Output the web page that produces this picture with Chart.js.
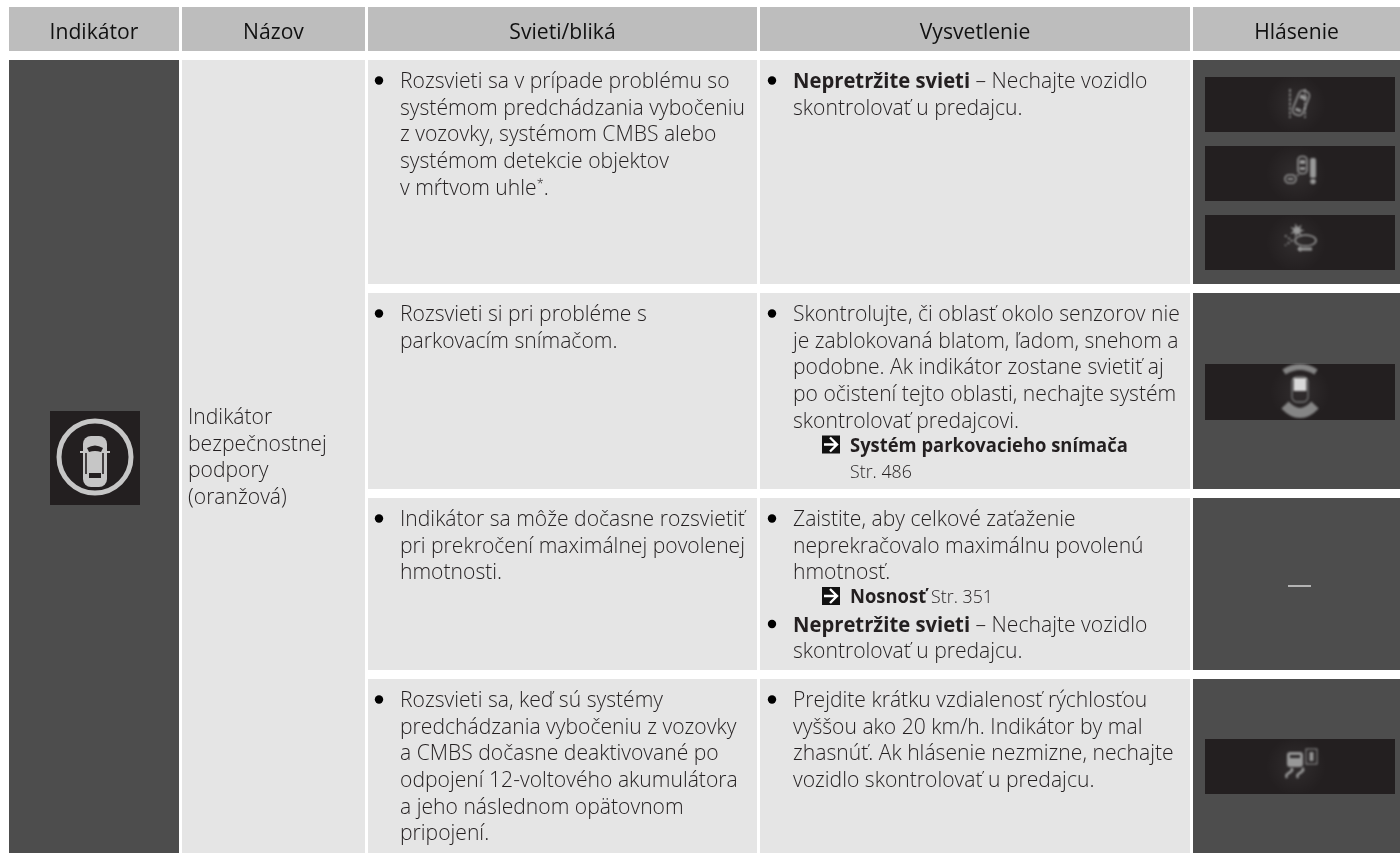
<!DOCTYPE html>
<html lang="sk">
<head>
<meta charset="utf-8">
<title>Indikátor bezpečnostnej podpory</title>
<script src="https://cdn.jsdelivr.net/npm/chart.js@4/dist/chart.umd.js"></script>
<style>
  html, body { margin: 0; padding: 0; background: #fff; }
  #wrap { width: 1400px; height: 853px; }
</style>
</head>
<body>
<div id="wrap"><canvas id="table"></canvas></div>
<script>
// table content
const headers = ["Indikátor", "Názov", "Svieti/bliká", "Vysvetlenie", "Hlásenie"];
const nameLines = ["Indikátor", "bezpečnostnej", "podpory", "(oranžová)"];

// one list per row, "*" starts a bullet, ** marks bold
const svietiRow1 = ["* Rozsvieti sa v prípade problému so", "systémom predchádzania vybočeniu", "z vozovky, systémom CMBS alebo", "systémom detekcie objektov", "v mŕtvom uhle^*^."];
const svietiRow2 = ["* Rozsvieti si pri probléme s", "parkovacím snímačom."];
const svietiRow3 = ["* Indikátor sa môže dočasne rozsvietiť", "pri prekročení maximálnej povolenej", "hmotnosti."];
const svietiRow4 = ["* Rozsvieti sa, keď sú systémy", "predchádzania vybočeniu z vozovky", "a CMBS dočasne deaktivované po", "odpojení 12-voltového akumulátora", "a jeho následnom opätovnom", "pripojení."];

const vysvRow1 = ["* **Nepretržite svieti** – Nechajte vozidlo", "skontrolovať u predajcu."];
const vysvRow2 = ["* Skontrolujte, či oblasť okolo senzorov nie", "je zablokovaná blatom, ľadom, snehom a", "podobne. Ak indikátor zostane svietiť aj", "po očistení tejto oblasti, nechajte systém", "skontrolovať predajcovi."];
const vysvRow3 = ["* Zaistite, aby celkové zaťaženie", "neprekračovalo maximálnu povolenú", "hmotnosť."];
const vysvRow3b = ["* **Nepretržite svieti** – Nechajte vozidlo", "skontrolovať u predajcu."];
const vysvRow4 = ["* Prejdite krátku vzdialenosť rýchlosťou", "vyššou ako 20 km/h. Indikátor by mal", "zhasnúť. Ak hlásenie nezmizne, nechajte", "vozidlo skontrolovať u predajcu."];

// table grid, same units as the page
const columnEdges = [[9, 179], [182, 365], [368, 757], [760, 1190], [1193, 1400]];
const headerEdge = [7, 51];
const rowEdges = [[60, 284], [293, 489], [498, 670], [679, 853]];
const panelRanges = [[77, 132], [146, 201], [215, 270], [364, 420], [739, 794]];
const panelColumn = [1205, 1395];

const INK = "#231f20";
const BODY_FONT = '"Open Sans"';
const SQUEEZE = 0.96;
const BOLD_SQUEEZE = 0.92;

// a cell is a floating horizontal bar: centre on y, range on x
function bar(label, x0, x1, y0, y1, color, order) {
  return {
    label,
    type: "bar",
    data: [{ x: [x0, x1], y: (y0 + y1) / 2 }],
    backgroundColor: color,
    barThickness: y1 - y0,
    inflateAmount: 0,
    order,
  };
}

const cellBars = [];
columnEdges.forEach((c, i) => {
  cellBars.push(bar(headers[i], c[0], c[1], headerEdge[0], headerEdge[1], "#bdbdbd", 1));
});
cellBars.push(bar("indikator", columnEdges[0][0], columnEdges[0][1], rowEdges[0][0], 853, "#4d4d4d", 1));
cellBars.push(bar("nazov", columnEdges[1][0], columnEdges[1][1], rowEdges[0][0], 853, "#e5e5e5", 1));
rowEdges.forEach((r, i) => {
  cellBars.push(bar("svieti" + i, columnEdges[2][0], columnEdges[2][1], r[0], r[1], "#e5e5e5", 1));
  cellBars.push(bar("vysv" + i, columnEdges[3][0], columnEdges[3][1], r[0], r[1], "#e5e5e5", 1));
  cellBars.push(bar("hlasenie" + i, columnEdges[4][0], columnEdges[4][1], r[0], r[1], "#4d4d4d", 1));
});
// panels sit on top of the dark cells
panelRanges.forEach((p, i) => {
  cellBars.push(bar("panel" + i, panelColumn[0], panelColumn[1], p[0], p[1], INK, 0));
});
cellBars.push(bar("icon", 50, 140, 411, 505, INK, 0));

function drawRich(ctx, text, x, y, size) {
  // plain / **bold** / ^sup^ runs
  const parts = text.split(/(\*\*.+?\*\*|\^.+?\^)/).filter(Boolean);
  let cx = x;
  parts.forEach((p) => {
    let s = p, weight = 300, sz = size, dy = 0, squeeze = SQUEEZE;
    if (p.startsWith("**")) { s = p.slice(2, -2); weight = 700; squeeze = BOLD_SQUEEZE; }
    else if (p.startsWith("^")) { s = p.slice(1, -1); sz = size * 0.6; dy = -7; }
    ctx.font = `${weight} ${sz}px ${BODY_FONT}`;
    ctx.save();
    ctx.translate(cx, y + dy);
    ctx.scale(squeeze, 1);
    ctx.fillText(s, 0, 0);
    ctx.restore();
    cx += ctx.measureText(s).width * squeeze;
  });
  return cx;
}

function drawBlock(ctx, sx, sy, lines, textX, bulletX, top) {
  const LINE = 26.65;
  lines.forEach((line, i) => {
    const y = sy.getPixelForValue(top + i * LINE);
    let t = line;
    if (t.startsWith("* ")) {
      t = t.slice(2);
      ctx.beginPath();
      ctx.arc(sx.getPixelForValue(bulletX), y - 7.5, 4.2, 0, Math.PI * 2);
      ctx.fillStyle = "#000";
      ctx.fill();
      ctx.fillStyle = INK;
    }
    drawRich(ctx, t, sx.getPixelForValue(textX), y, 22);
  });
}

function xref(ctx, sx, sy, baseline, bold, tail, tailBelow) {
  // small black box with arrow, then bold target and page
  const x = sx.getPixelForValue(822), y = sy.getPixelForValue(baseline);
  ctx.fillStyle = "#111";
  ctx.fillRect(x, y - 16, 18, 18);
  ctx.strokeStyle = "#fff";
  ctx.lineWidth = 2.4;
  ctx.beginPath();
  ctx.moveTo(x + 2, y - 7); ctx.lineTo(x + 15, y - 7);
  ctx.moveTo(x + 8, y - 14); ctx.lineTo(x + 15, y - 7); ctx.lineTo(x + 8, y);
  ctx.stroke();
  ctx.fillStyle = INK;
  const end = drawRich(ctx, "**" + bold + "**", sx.getPixelForValue(850), y, 20);
  if (tailBelow) drawRich(ctx, tail, sx.getPixelForValue(850), y + 26, 18.5);
  else drawRich(ctx, tail, end + 5, y, 18.5);
}

// dashboard pictograms, soft grey on the dark panels
function softIcon(ctx, cx, cy, draw) {
  ctx.save();
  const glow = ctx.createRadialGradient(cx, cy, 2, cx, cy, 30);
  glow.addColorStop(0, "rgba(255,255,255,0.06)");
  glow.addColorStop(1, "rgba(255,255,255,0)");
  ctx.fillStyle = glow;
  ctx.fillRect(cx - 30, cy - 27, 60, 54);
  ctx.filter = "blur(0.9px)";
  ctx.translate(cx, cy);
  ctx.strokeStyle = "#989898";
  ctx.fillStyle = "#989898";
  ctx.lineWidth = 1.6;
  draw(ctx);
  ctx.restore();
}

function carOutline(c, w, h) {
  c.beginPath();
  c.roundRect(-w / 2, -h / 2, w, h, w * 0.4);
  c.stroke();
}

const iconDraw = {
  lane(c) {
    c.setLineDash([3, 1.5]);
    c.beginPath(); c.moveTo(-6, -15); c.lineTo(-6, 14); c.moveTo(9, -15); c.lineTo(9, 14); c.stroke();
    c.setLineDash([]);
    c.save(); c.translate(5, -1); c.rotate(0.38); carOutline(c, 11, 25);
    c.fillRect(-3.5, -8, 7, 4); c.fillRect(-3, 6, 6, 3); c.restore();
  },
  obstacle(c) {
    c.save(); c.translate(6.5, -8.5); carOutline(c, 9, 17); c.fillRect(-3, -5, 6, 4); c.fillRect(-3, 2, 6, 3); c.restore();
    c.save(); c.translate(-5.5, 5.5); carOutline(c, 11, 8); c.fillRect(-3, -1, 6, 2); c.restore();
    c.setLineDash([2, 2]);
    c.beginPath(); c.moveTo(1, 2); c.lineTo(5, 0); c.stroke(); c.setLineDash([]);
    c.beginPath(); c.roundRect(14, -15.5, 6, 20, 2); c.fill();
    c.beginPath(); c.arc(17, 8, 2.8, 0, Math.PI * 2); c.fill();
  },
  crash(c) {
    c.beginPath();
    for (let k = 0; k < 14; k++) {
      const a = k * Math.PI / 7, r = k % 2 ? 3.2 : 7.5;
      c.lineTo(1 + r * Math.cos(a), -12 + r * Math.sin(a));
    }
    c.closePath(); c.fill();
    c.beginPath(); c.ellipse(9.5, -2, 10.5, 5.5, 0, 0, Math.PI * 2); c.stroke();
    c.setLineDash([2, 2]);
    c.beginPath(); c.moveTo(-11, -7); c.lineTo(-4, -2); c.lineTo(-11, 3); c.stroke(); c.setLineDash([]);
    c.lineWidth = 3;
    c.beginPath(); c.moveTo(3, 6.5); c.lineTo(16, 6.5); c.stroke();
    c.beginPath(); c.moveTo(1, 6.5); c.lineTo(5, 3.5); c.lineTo(5, 9.5); c.closePath(); c.fill();
  },
  parking(c) {
    c.strokeStyle = "#858585";
    c.lineWidth = 6;
    c.beginPath(); c.moveTo(-16, -20); c.quadraticCurveTo(0, -30, 16, -20); c.stroke();
    c.lineWidth = 10;
    c.beginPath(); c.moveTo(-15, 13); c.quadraticCurveTo(0, 29, 15, 13); c.stroke();
    c.lineWidth = 1.3;
    c.strokeStyle = "#777";
    c.beginPath(); c.roundRect(-8, -15, 16, 25, 5); c.stroke();
    c.fillStyle = "#d8d8d8";
    c.fillRect(-6.5, -14, 13, 13);
  },
  skid(c) {
    c.beginPath(); c.roundRect(-9, -14, 16, 15, 3); c.fill();
    c.fillStyle = "#2a2728"; c.fillRect(-6, -11, 10, 3); c.fillStyle = "#989898";
    c.lineWidth = 2.6;
    c.beginPath();
    c.moveTo(-5, 2); c.bezierCurveTo(0, 6, -13, 7, -9, 12);
    c.moveTo(6, 2); c.bezierCurveTo(11, 6, -2, 7, 2, 12);
    c.stroke();
    c.lineWidth = 1;
    c.strokeRect(10, -17, 11, 15);
    c.fillRect(13.5, -14, 4, 9);
  },
};

function drawIndicator(c, cx, cy) {
  c.save();
  c.filter = "blur(0.5px)";
  c.translate(cx, cy);
  c.strokeStyle = "#c6c6c6";
  c.fillStyle = "#c6c6c6";
  c.lineWidth = 5;
  c.beginPath(); c.arc(0, 0, 36, 0, Math.PI * 2); c.stroke();
  c.beginPath(); c.roundRect(-12, -21, 24, 51, 8); c.fill();
  c.lineWidth = 2;
  c.beginPath(); c.moveTo(-15, -5); c.lineTo(15, -5); c.stroke();
  c.fillStyle = INK;
  c.beginPath(); c.moveTo(-8, -9); c.quadraticCurveTo(0, -14, 8, -9); c.lineTo(6, -5); c.quadraticCurveTo(0, -7, -6, -5); c.closePath(); c.fill();
  c.fillRect(-6, 16, 12, 5);
  c.lineWidth = 1.6; c.strokeStyle = INK;
  c.beginPath(); c.moveTo(-9, -4); c.lineTo(-9, 17); c.moveTo(8, -4); c.lineTo(8, 17); c.stroke();
  c.restore();
}

const tableText = {
  id: "tableText",
  afterDatasetsDraw(chart) {
    const ctx = chart.ctx, sx = chart.scales.x, sy = chart.scales.y;
    ctx.save();
    ctx.textBaseline = "alphabetic";
    ctx.fillStyle = "#111";
    ctx.font = `400 22px ${BODY_FONT}`;
    headers.forEach((h, i) => {
      const mid = (columnEdges[i][0] + columnEdges[i][1]) / 2;
      ctx.save();
      ctx.translate(sx.getPixelForValue(mid), sy.getPixelForValue(39));
      ctx.scale(SQUEEZE, 1);
      ctx.textAlign = "center";
      ctx.fillText(h, 0, 0);
      ctx.restore();
    });
    ctx.textAlign = "left";
    ctx.fillStyle = INK;
    nameLines.forEach((l, i) => drawRich(ctx, l, sx.getPixelForValue(188), sy.getPixelForValue(424 + i * 26.65), 22));

    [svietiRow1, svietiRow2, svietiRow3, svietiRow4].forEach((lines, i) => {
      drawBlock(ctx, sx, sy, lines, 400, 379, rowEdges[i][0] + 28);
    });
    [vysvRow1, vysvRow2, vysvRow3, vysvRow4].forEach((lines, i) => {
      drawBlock(ctx, sx, sy, lines, 793, 772, rowEdges[i][0] + 28);
    });
    drawBlock(ctx, sx, sy, vysvRow3b, 793, 772, 631.5);
    xref(ctx, sx, sy, 451.5, "Systém parkovacieho snímača", "Str. 486", true);
    xref(ctx, sx, sy, 603, "Nosnosť", "Str. 351", false);

    ctx.fillStyle = "#b4b4b4";
    ctx.fillRect(sx.getPixelForValue(1288), sy.getPixelForValue(585), 23, 2);
    ctx.restore();

    const mid = 1296;
    softIcon(ctx, sx.getPixelForValue(mid), sy.getPixelForValue(104), iconDraw.lane);
    softIcon(ctx, sx.getPixelForValue(mid), sy.getPixelForValue(173.5), iconDraw.obstacle);
    softIcon(ctx, sx.getPixelForValue(mid), sy.getPixelForValue(242.5), iconDraw.crash);
    softIcon(ctx, sx.getPixelForValue(1300), sy.getPixelForValue(392), iconDraw.parking);
    softIcon(ctx, sx.getPixelForValue(mid), sy.getPixelForValue(766), iconDraw.skid);
    drawIndicator(ctx, sx.getPixelForValue(95), sy.getPixelForValue(457));
  },
};

new Chart(document.getElementById("table"), {
  data: { datasets: cellBars },
  plugins: [tableText],
  options: {
    responsive: true,
    maintainAspectRatio: false,
    animation: false,
    indexAxis: "y",
    layout: { padding: 0 },
    datasets: { bar: { grouped: false } },
    plugins: { legend: { display: false }, tooltip: { enabled: false } },
    scales: {
      x: { type: "linear", display: false, min: 0, max: 1400, offset: false, grid: { offset: false } },
      y: { type: "linear", display: false, min: 0, max: 853, reverse: true, offset: false, grid: { offset: false } },
    },
  },
});
</script>
</body>
</html>
